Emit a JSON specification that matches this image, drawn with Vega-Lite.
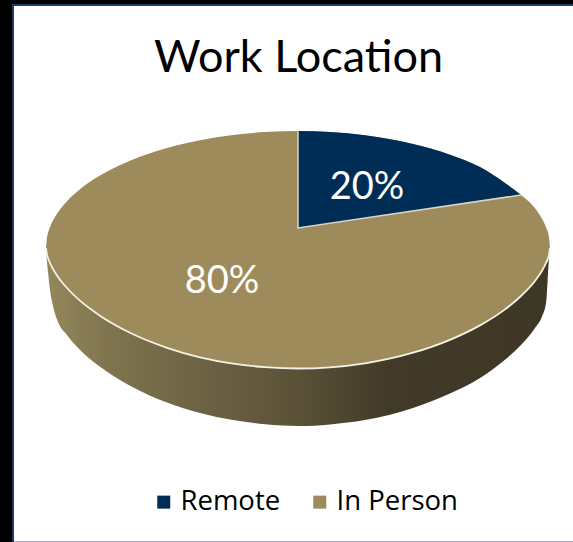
{
"$schema":"https://vega.github.io/schema/vega-lite/v6.json",
"width":573,"height":542,"padding":0,"autosize":{"type":"none"},
"background":"#ffffff",
"view":{"stroke":null},
"title":{"text":"Work Location","font":"Lato","fontSize":45,"fontWeight":"normal","color":"#000000","anchor":"middle","frame":"group","offset":0,"baseline":"alphabetic","dy":117,"dx":12},
"datasets":{
"outline":[
{"x":46,"top":248,"rim":248,"base":248,"category":"In Person"},
{"x":47,"top":237.6,"rim":254.6,"base":262,"category":"In Person"},
{"x":48,"top":233.3,"rim":258,"base":272,"category":"In Person"},
{"x":50,"top":227.2,"rim":263,"base":290,"category":"In Person"},
{"x":53,"top":220.6,"rim":269,"base":306,"category":"In Person"},
{"x":58,"top":212.3,"rim":277,"base":322,"category":"In Person"},
{"x":67,"top":201.2,"rim":288,"base":335,"category":"In Person"},
{"x":80,"top":189.3,"rim":300.7,"base":350,"category":"In Person"},
{"x":100,"top":175.6,"rim":315.7,"base":366.7,"category":"In Person"},
{"x":130,"top":160.8,"rim":332.8,"base":385.7,"category":"In Person"},
{"x":167,"top":148,"rim":347.8,"base":402.5,"category":"In Person"},
{"x":200,"top":140.2,"rim":357.3,"base":413,"category":"In Person"},
{"x":233,"top":135,"rim":363.6,"base":420,"category":"In Person"},
{"x":265,"top":132,"rim":367.2,"base":424.3,"category":"In Person"},
{"x":298,"top":131,"rim":368.5,"base":426,"category":"In Person"},
{"x":330,"top":132,"rim":367.3,"base":424.4,"category":"In Person"},
{"x":365,"top":135.2,"rim":363.3,"base":420,"category":"In Person"},
{"x":413,"top":144,"rim":352.7,"base":408,"category":"In Person"},
{"x":450,"top":154.7,"rim":339.8,"base":393.6,"category":"In Person"},
{"x":480,"top":167.1,"rim":325.4,"base":378,"category":"In Person"},
{"x":505,"top":183,"rim":309.4,"base":359.7,"category":"In Person"},
{"x":521,"top":195,"rim":296,"base":345,"category":"In Person"},
{"x":535,"top":208.2,"rim":281,"base":328,"category":"In Person"},
{"x":542,"top":218.8,"rim":270.8,"base":316.5,"category":"In Person"},
{"x":546,"top":227.2,"rim":263,"base":303,"category":"In Person"},
{"x":549,"top":237.6,"rim":254.6,"base":258,"category":"In Person"},
{"x":550,"top":248,"rim":248,"base":248,"category":"In Person"}
],
"wedge":[
{"x":298,"top":131,"edge":228,"category":"Remote"},
{"x":330,"top":132,"edge":223.3,"category":"Remote"},
{"x":365,"top":135.2,"edge":218,"category":"Remote"},
{"x":413,"top":144,"edge":211,"category":"Remote"},
{"x":450,"top":154.7,"edge":205.5,"category":"Remote"},
{"x":480,"top":167.1,"edge":201,"category":"Remote"},
{"x":505,"top":183,"edge":197.3,"category":"Remote"},
{"x":521,"top":195,"edge":195,"category":"Remote"}
],
"wedgeEdge":[
{"i":1,"x":298,"y":131},
{"i":2,"x":298,"y":228},
{"i":3,"x":521,"y":195}
],
"labels":[
{"category":"Remote","share":20,"label":"20%","x":367,"y":188},
{"category":"In Person","share":80,"label":"80%","x":222,"y":282}
],
"frameBlack":[
{"x":0,"x2":12,"y":0,"y2":542},
{"x":0,"x2":573,"y":0,"y2":4}
],
"frameNavy":[
{"x":12,"x2":14,"y":4,"y2":542},
{"x":12,"x2":573,"y":4,"y2":6}
],
"frameGray":[
{"x":14,"x2":573,"y":541,"y2":542}
]
},
"encoding":{
"x":{"field":"x","type":"quantitative","scale":{"domain":[0,573],"nice":false,"zero":false},"axis":null}
},
"layer":[
{"data":{"name":"outline"},"mark":{"type":"area","interpolate":"monotone","color":{"gradient":"linear","x1":0,"x2":1,"y1":0,"y2":0,"stops":[{"offset":0,"color":"#94875c"},{"offset":0.12,"color":"#80754f"},{"offset":0.3,"color":"#6e6344"},{"offset":0.5,"color":"#5b5137"},{"offset":0.68,"color":"#423a28"},{"offset":1,"color":"#3f3726"}]}},
"encoding":{"y":{"field":"rim","type":"quantitative","scale":{"domain":[542,0],"nice":false,"zero":false},"axis":null},"y2":{"field":"base"}}},
{"data":{"name":"outline"},"mark":{"type":"area","interpolate":"monotone"},
"encoding":{"y":{"field":"top","type":"quantitative","scale":{"domain":[542,0],"nice":false,"zero":false},"axis":null},"y2":{"field":"rim"},
"color":{"field":"category","type":"nominal","scale":{"domain":["Remote","In Person"],"range":["#002d56","#9e8b5c"]},
"legend":{"title":null,"orient":"none","legendX":150,"legendY":488,"direction":"horizontal","symbolType":"square","symbolSize":169,"symbolStrokeWidth":0,"labelFont":"Open Sans","labelFontSize":27.5,"labelColor":"#000000","labelOffset":3,"columnPadding":25,"padding":0,"labelLimit":300}}}},
{"data":{"name":"wedge"},"mark":{"type":"area","interpolate":"monotone"},
"encoding":{"y":{"field":"top","type":"quantitative","scale":{"domain":[542,0],"nice":false,"zero":false},"axis":null},"y2":{"field":"edge"},
"color":{"field":"category","type":"nominal"}}},
{"data":{"name":"wedgeEdge"},"mark":{"type":"line","color":"#d9d6c8","strokeWidth":1.5},
"encoding":{"y":{"field":"y","type":"quantitative","scale":{"domain":[542,0],"nice":false,"zero":false},"axis":null},"order":{"field":"i"}}},
{"data":{"name":"outline"},"mark":{"type":"line","interpolate":"monotone","color":"#f4f2e8","strokeWidth":1.8},
"encoding":{"y":{"field":"rim","type":"quantitative","scale":{"domain":[542,0],"nice":false,"zero":false},"axis":null}}},
{"data":{"name":"labels"},"mark":{"type":"text","font":"Lato","fontSize":38,"color":"#ffffff","align":"center","baseline":"middle"},
"encoding":{"y":{"field":"y","type":"quantitative","scale":{"domain":[542,0],"nice":false,"zero":false},"axis":null},"text":{"field":"label","type":"nominal"}}},
{"data":{"name":"frameBlack"},"mark":{"type":"rect","color":"#000000"},
"encoding":{"x2":{"field":"x2"},"y":{"field":"y","type":"quantitative","scale":{"domain":[542,0],"nice":false,"zero":false},"axis":null},"y2":{"field":"y2"}}},
{"data":{"name":"frameNavy"},"mark":{"type":"rect","color":"#1f3a63"},
"encoding":{"x2":{"field":"x2"},"y":{"field":"y","type":"quantitative","scale":{"domain":[542,0],"nice":false,"zero":false},"axis":null},"y2":{"field":"y2"}}},
{"data":{"name":"frameGray"},"mark":{"type":"rect","color":"#a8b0c0"},
"encoding":{"x2":{"field":"x2"},"y":{"field":"y","type":"quantitative","scale":{"domain":[542,0],"nice":false,"zero":false},"axis":null},"y2":{"field":"y2"}}}
]
}
